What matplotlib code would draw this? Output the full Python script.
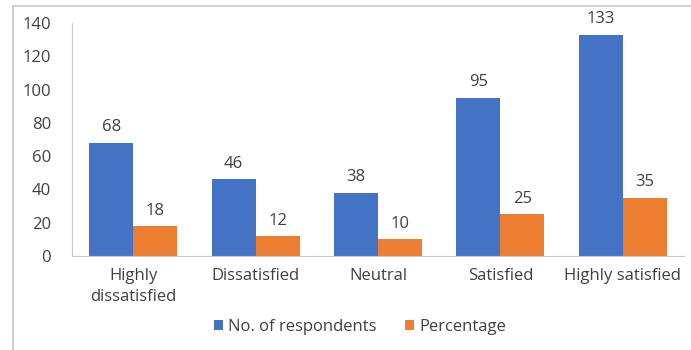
import matplotlib
matplotlib.use("Agg")
import matplotlib.pyplot as plt
import numpy as np
from matplotlib.lines import Line2D

categories = ["Highly\ndissatisfied", "Dissatisfied", "Neutral", "Satisfied", "Highly satisfied"]
respondents = [68, 46, 38, 95, 133]
percentage = [18, 12, 10, 25, 35]
series_names = ["No. of respondents", "Percentage"]
yticks = [0, 20, 40, 60, 80, 100, 120, 140]

plt.rcParams['font.family'] = ['Open Sans', 'DejaVu Sans']
fs = 12
fig = plt.figure(figsize=(6.91, 3.5), dpi=100)
ax = fig.add_axes([72/691, 1-256/350, (684-72)/691, (256-23)/350])

x = np.arange(len(categories))
w = 0.36
blue = "#4472C4"
orange = "#ED7D31"
b1 = ax.bar(x - w/2, respondents, w, color=blue, label=series_names[0])
b2 = ax.bar(x + w/2, percentage, w, color=orange, label=series_names[1])
for bars, vals in ((b1, respondents), (b2, percentage)):
    for r, v in zip(bars, vals):
        ax.text(r.get_x() + r.get_width()/2, v + 4.5, str(v), ha="center", va="bottom",
                fontsize=fs, color="#404040")

ax.set_xlim(-0.5, len(categories) - 0.5)
ax.set_ylim(0, 140)
ax.set_yticks(yticks)
ax.set_xticks(x)
ax.set_xticklabels(categories, fontsize=fs, color="#404040", linespacing=1.4)
ax.tick_params(axis="y", length=0, labelsize=fs, labelcolor="#404040", pad=15)
ax.tick_params(axis="x", length=0, pad=9)
for s in ("top", "right"):
    ax.spines[s].set_visible(False)
ax.spines["left"].set_color("#c8c8c8")
ax.spines["bottom"].set_color("#c8c8c8")

leg = fig.legend(handles=[b1, b2], labels=series_names, loc="center", ncol=2,
                 bbox_to_anchor=(360/691, 1-327/350), frameon=False, fontsize=fs,
                 handlelength=0.55, handleheight=0.55, columnspacing=1.7, handletextpad=0.3)
for t in leg.get_texts():
    t.set_color("#404040")

fig.add_artist(Line2D([13/691, 1], [1-6/350, 1-6/350], color="#c8c8c8", lw=1.2, transform=fig.transFigure))
fig.add_artist(Line2D([13/691, 13/691], [0, 1-6/350], color="#c8c8c8", lw=1.2, transform=fig.transFigure))

fig.savefig("out.png", dpi=100)
